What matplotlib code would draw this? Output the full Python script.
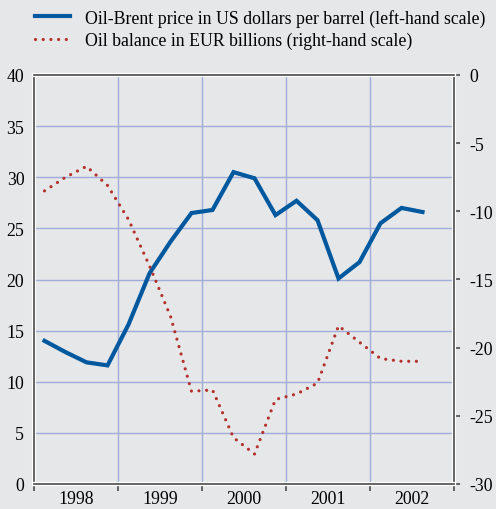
import matplotlib
matplotlib.use('Agg')
import matplotlib.pyplot as plt
import matplotlib.patheffects as pe
import numpy as np

# quarterly observations, Q1 1998 .. Q3 2002
quarters = ['1998Q1', '1998Q2', '1998Q3', '1998Q4',
            '1999Q1', '1999Q2', '1999Q3', '1999Q4',
            '2000Q1', '2000Q2', '2000Q3', '2000Q4',
            '2001Q1', '2001Q2', '2001Q3', '2001Q4',
            '2002Q1', '2002Q2', '2002Q3']
brent_price = [14.0, 12.9, 11.9, 11.6,
               15.6, 20.6, 23.7, 26.5,
               26.8, 30.5, 29.9, 26.3,
               27.7, 25.8, 20.1, 21.7,
               25.5, 27.0, 26.6]
oil_balance = [-8.5, -7.5, -6.7, -8.1,
               -10.6, -14.0, -17.7, -23.2,
               -23.1, -26.6, -27.8, -23.8,
               -23.4, -22.6, -18.4, -19.6,
               -20.8, -21.0, -21.0]
years = ['1998', '1999', '2000', '2001', '2002']

# appearance
BG_COLOR = '#e6e7e9'
GRID_COLOR = '#9fadd8'
BLUE = '#00589f'
RED = '#b3302b'
FRAME_COLOR = '#4a4a4a'
FONT = 'Liberation Serif'
FS = 12.8

plt.rcParams['font.family'] = FONT
plt.rcParams['font.size'] = FS
plt.rcParams['axes.unicode_minus'] = False

# quarter centres in decimal years
x = np.array([int(q[:4]) + (int(q[-1]) - 0.5) / 4 for q in quarters])

fig = plt.figure(figsize=(4.96, 5.10), dpi=100)
fig.patch.set_facecolor(BG_COLOR)
ax = fig.add_axes([34 / 496, 25 / 510, 420 / 496, 409 / 510])
ax.set_facecolor(BG_COLOR)
ax2 = ax.twinx()

l1, = ax.plot(x, brent_price, color=BLUE, lw=3.0, solid_joinstyle='miter',
              label='Oil-Brent price in US dollars per barrel (left-hand scale)', zorder=5)
l2, = ax2.plot(x, oil_balance, color=RED, lw=2.3, linestyle=(0, (0.01, 2.4)),
               dash_capstyle='round',
               label='Oil balance in EUR billions (right-hand scale)', zorder=5)

ax.set_xlim(1998, 2003)
ax.set_ylim(0, 40)
ax2.set_ylim(-30, 0)

# x axis: ticks at year boundaries, labels at year centres
ax.set_xticks(np.arange(1998, 2004))
ax.set_xticklabels([])
ax.set_xticks(np.arange(1998.5, 2003), minor=True)
ax.set_xticklabels(years, minor=True)
ax.tick_params(axis='x', which='major', direction='out', length=5, width=1.2,
               color=FRAME_COLOR)
ax.tick_params(axis='x', which='minor', length=0, pad=4, labelsize=FS)

ax.set_yticks(np.arange(0, 41, 5))
ax.tick_params(axis='y', length=0, pad=7, labelsize=FS)

ax2.set_yticks(np.arange(-30, 1, 5))
ax2.tick_params(axis='y', direction='out', length=4, width=1.2, color=FRAME_COLOR,
                pad=7, labelsize=FS)

ax.grid(True, which='major', color=GRID_COLOR, lw=1.0)
ax.set_axisbelow(True)

for a in (ax, ax2):
    for s in a.spines.values():
        s.set_color(FRAME_COLOR)
        s.set_linewidth(1.2)
        s.set_path_effects([pe.Stroke(linewidth=3.0, foreground='white'), pe.Normal()])
ax2.spines['left'].set_visible(False)
ax.spines['right'].set_visible(False)

fig.legend(handles=[l1, l2], loc='upper left', bbox_to_anchor=(0.05, 1.0),
           frameon=False, fontsize=FS, handlelength=2.0, handletextpad=0.85,
           labelspacing=0.3, borderaxespad=0.15)

fig.savefig('out.png', dpi=100, facecolor=BG_COLOR)
